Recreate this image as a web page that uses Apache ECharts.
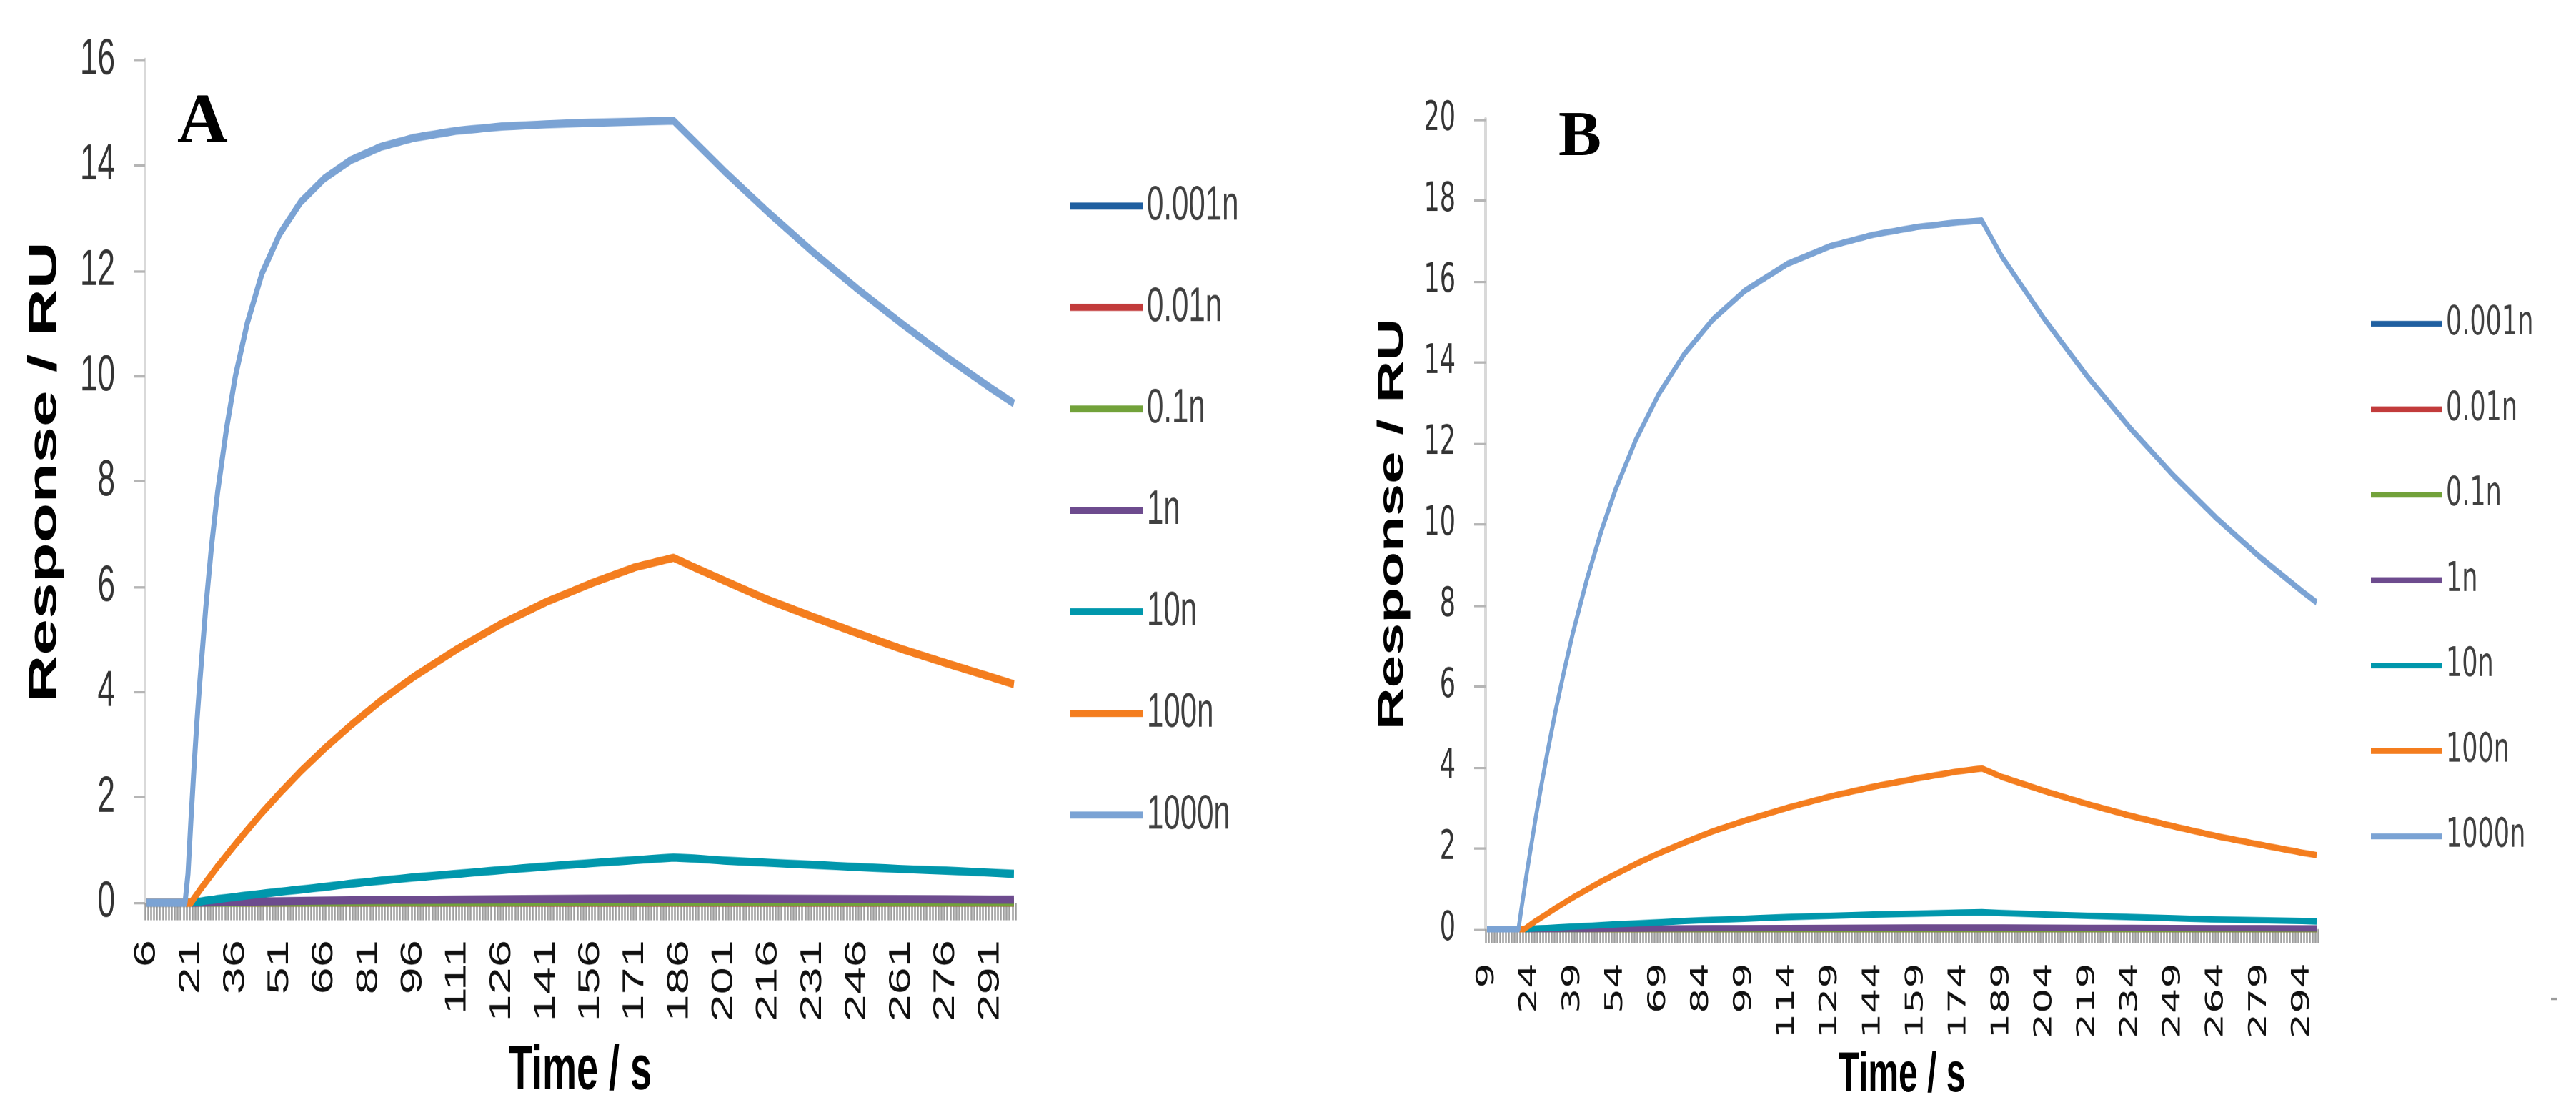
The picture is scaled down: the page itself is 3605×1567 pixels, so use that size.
<!DOCTYPE html>
<html><head><meta charset="utf-8">
<script src="https://cdn.jsdelivr.net/npm/echarts@6/dist/echarts.min.js"></script>
<style>
html,body{margin:0;padding:0;background:#fff;overflow:hidden;width:3605px;height:1567px;}
#wrap{width:3605px;height:1567px;overflow:hidden;position:relative;background:#fff;}
#chart{width:3605px;height:961px;position:absolute;left:0;top:0;transform:scaleY(1.630593);transform-origin:0 0;}
</style></head>
<body><div id="wrap"><div id="chart"></div></div>
<script>
// ---------- data ----------
const seriesNames = ['0.001n', '0.01n', '0.1n', '1n', '10n', '100n', '1000n'];
const seriesColors = ['#1f5fa0', '#c23b3b', '#72a23a', '#6d4b8e', '#0097ac', '#f47d1e', '#7ba3d4'];

// Panel A : time axis 6 .. 299 s
const timeStartA = 6, timeEndA = 299;
const sampleTimesA = [6, 19, 20, 21, 22, 23, 24, 26, 28, 30, 33, 36, 40, 45, 51, 58, 66, 75, 85, 96,
  111, 126, 141, 156, 171, 184, 191, 201, 216, 231, 246, 261, 276, 291, 299];
const a_0001n = [0, 0, 0, 0, 0, 0, 0, 0, 0, 0, 0, 0, 0, 0, 0, 0, 0, 0, 0, 0,
  0, 0, 0, 0, 0, 0, 0, 0, 0, 0, 0, 0, 0, 0, 0];
const a_001n = [0, 0, 0, 0, 0, 0, 0, 0, 0, 0, 0, 0, 0, 0, 0, 0, 0.001, 0.001, 0.001, 0.001,
  0.001, 0.001, 0.001, 0.001, 0.001, 0.001, 0.001, 0.001, 0.001, 0.001, 0.001, 0.001, 0.001, 0.001, 0.001];
const a_01n = [0, 0, 0, 0, 0, 0, 0, 0, 0.001, 0.001, 0.002, 0.002, 0.003, 0.003, 0.004, 0.004, 0.005, 0.006, 0.006, 0.007,
  0.008, 0.008, 0.009, 0.009, 0.01, 0.01, 0.01, 0.01, 0.009, 0.009, 0.009, 0.008, 0.008, 0.008, 0.008];
const a_1n = [0, 0, 0, 0, 0, 0, 0.005, 0.005, 0.01, 0.01, 0.015, 0.02, 0.02, 0.025, 0.03, 0.035, 0.04, 0.045, 0.05, 0.055,
  0.06, 0.065, 0.07, 0.075, 0.08, 0.08, 0.08, 0.078, 0.075, 0.072, 0.07, 0.068, 0.065, 0.06, 0.06];
const a_10n = [0, 0, 0, 0, 0.01, 0.015, 0.02, 0.04, 0.05, 0.07, 0.09, 0.11, 0.14, 0.17, 0.21, 0.25, 0.30, 0.36, 0.42, 0.48,
  0.55, 0.62, 0.69, 0.75, 0.81, 0.86, 0.84, 0.80, 0.76, 0.72, 0.68, 0.64, 0.61, 0.57, 0.55];
const a_100n = [0, 0, 0, 0, 0.08, 0.16, 0.24, 0.39, 0.54, 0.69, 0.90, 1.11, 1.38, 1.71, 2.08, 2.49, 2.92, 3.37, 3.83, 4.28,
  4.82, 5.30, 5.71, 6.06, 6.37, 6.55, 6.37, 6.12, 5.75, 5.43, 5.12, 4.82, 4.55, 4.29, 4.15];
const a_1000n = [0, 0, 0.55, 1.58, 2.54, 3.43, 4.20, 5.60, 6.80, 7.80, 9.00, 10.00, 11.00, 11.95, 12.70, 13.30, 13.75, 14.10, 14.35, 14.52,
  14.66, 14.74, 14.78, 14.81, 14.83, 14.85, 14.46, 13.90, 13.11, 12.36, 11.66, 11.00, 10.37, 9.78, 9.48];

// Panel B : time axis 9 .. 299 s
const timeStartB = 9, timeEndB = 299;
const sampleTimesB = [9, 19, 20, 21, 22, 23, 24, 26, 28, 30, 33, 36, 39, 44, 49, 54, 61, 69, 78, 88,
  99, 114, 129, 144, 159, 174, 182, 189, 204, 219, 234, 249, 264, 279, 294, 299];
const b_0001n = [0, 0, 0, 0, 0, 0, 0, 0, 0, 0, 0, 0, 0, 0, 0, 0, 0, 0, 0, 0,
  0, 0, 0, 0, 0, 0, 0, 0, 0, 0, 0, 0, 0, 0, 0, 0];
const b_001n = [0, 0, 0, 0, 0, 0, 0, 0, 0, 0, 0, 0, 0, 0, 0, 0, 0, 0, 0.001, 0.001,
  0.001, 0.001, 0.001, 0.001, 0.001, 0.001, 0.001, 0.001, 0.001, 0.001, 0.001, 0.001, 0.001, 0.001, 0.001, 0.001];
const b_01n = [0, 0, 0, 0, 0, 0, 0, 0, 0, 0.001, 0.001, 0.001, 0.001, 0.002, 0.002, 0.002, 0.003, 0.003, 0.003, 0.004,
  0.004, 0.004, 0.005, 0.005, 0.005, 0.005, 0.005, 0.005, 0.005, 0.004, 0.004, 0.004, 0.004, 0.003, 0.003, 0.003];
const b_1n = [0, 0, 0, 0, 0, 0, 0.001, 0.002, 0.003, 0.004, 0.005, 0.006, 0.007, 0.009, 0.011, 0.013, 0.015, 0.018, 0.021, 0.024,
  0.027, 0.030, 0.033, 0.036, 0.038, 0.040, 0.041, 0.040, 0.037, 0.034, 0.031, 0.028, 0.026, 0.024, 0.022, 0.021];
const b_10n = [0, 0, 0, 0, 0, 0.005, 0.01, 0.02, 0.025, 0.03, 0.04, 0.05, 0.06, 0.08, 0.10, 0.12, 0.14, 0.17, 0.20, 0.23,
  0.26, 0.30, 0.33, 0.36, 0.38, 0.41, 0.42, 0.40, 0.36, 0.33, 0.30, 0.27, 0.24, 0.22, 0.20, 0.19];
const b_100n = [0, 0, 0, 0, 0, 0.05, 0.10, 0.20, 0.29, 0.38, 0.52, 0.65, 0.78, 0.98, 1.18, 1.36, 1.61, 1.87, 2.14, 2.42,
  2.68, 3.00, 3.28, 3.52, 3.72, 3.90, 3.97, 3.76, 3.41, 3.09, 2.80, 2.54, 2.30, 2.09, 1.89, 1.83];
const b_1000n = [0, 0, 0, 0.49, 0.96, 1.43, 1.87, 2.74, 3.55, 4.32, 5.40, 6.39, 7.31, 8.66, 9.84, 10.87, 12.08, 13.21, 14.21, 15.06,
  15.76, 16.43, 16.87, 17.15, 17.34, 17.46, 17.50, 16.61, 15.05, 13.64, 12.36, 11.20, 10.15, 9.20, 8.34, 8.07];

const valuesA = [a_0001n, a_001n, a_01n, a_1n, a_10n, a_100n, a_1000n];
const valuesB = [b_0001n, b_001n, b_01n, b_1n, b_10n, b_100n, b_1000n];

const yTicksA = {min: 0, max: 16, step: 2};
const yTicksB = {min: 0, max: 20, step: 2};
const panelLetters = ['A', 'B'];
const xTitle = 'Time / s';
const yTitle = 'Response / RU';

// ---------- build ----------
const S = 1567 / 961; // vertical stretch applied by CSS
function cats(a, b) { const c = []; for (let t = a; t <= b; t++) c.push(String(t)); return c; }
const catsA = cats(timeStartA, timeEndA);
const catsB = cats(timeStartB, timeEndB);

function mkSeries(times, vals, idx, lw) {
  return seriesNames.map((n, k) => ({
    name: n, type: 'line', xAxisIndex: idx, yAxisIndex: idx,
    showSymbol: false, symbol: 'none', animation: false, silent: true,
    lineStyle: {color: seriesColors[k], width: lw, join: 'round'},
    itemStyle: {color: seriesColors[k]},
    z: 2 + k,
    data: times.map((t, i) => [String(t), vals[k][i]])
  }));
}

const FA = 'Liberation Sans, Arial, sans-serif';
const FB = 'DejaVu Sans, Verdana, sans-serif';

const chart = echarts.init(document.getElementById('chart'), null, {renderer: 'canvas', devicePixelRatio: 2});
chart.setOption({
  backgroundColor: '#ffffff',
  animation: false,
  grid: [
    {left: 203, right: 3605 - 1421, top: 84 / S, bottom: 961 - 1263 / S},
    {left: 2079, right: 3605 - 3244, top: 167 / S, bottom: 961 - 1300 / S}
  ],
  xAxis: [
    {gridIndex: 0, type: 'category', data: catsA, boundaryGap: true,
     axisLine: {show: false},
     axisTick: {show: true, interval: 0, length: 15, lineStyle: {color: '#9e9e9e', width: 2.5}},
     axisLabel: {interval: 14, rotate: 90, margin: 32, fontFamily: FA, fontSize: 42, color: '#111'},
     splitLine: {show: false},
     name: xTitle, nameLocation: 'middle', nameGap: 118,
     nameTextStyle: {fontFamily: FA, fontWeight: 'bold', fontSize: 54, color: '#000'}},
    {gridIndex: 1, type: 'category', data: catsB, boundaryGap: true,
     axisLine: {show: false},
     axisTick: {show: true, interval: 0, length: 12, lineStyle: {color: '#9e9e9e', width: 2.5}},
     axisLabel: {interval: 14, rotate: 90, margin: 29, fontFamily: FB, fontSize: 34, color: '#111'},
     splitLine: {show: false},
     name: xTitle, nameLocation: 'middle', nameGap: 80,
     nameTextStyle: {fontFamily: FA, fontWeight: 'bold', fontSize: 48, color: '#000'}}
  ],
  yAxis: [
    {gridIndex: 0, type: 'value', min: yTicksA.min, max: yTicksA.max, interval: yTicksA.step,
     axisLine: {show: true, lineStyle: {color: '#d9d9d9', width: 4}},
     axisTick: {show: true, length: 16, lineStyle: {color: '#b5b5b5', width: 2}},
     splitLine: {show: false},
     axisLabel: {fontFamily: FA, fontSize: 44, color: '#333', margin: 42},
     name: yTitle, nameLocation: 'middle', nameRotate: 90, nameGap: 112,
     nameTextStyle: {fontFamily: FA, fontWeight: 'bold', fontSize: 56, color: '#000', padding: [0, 0, 0, 16]}},
    {gridIndex: 1, type: 'value', min: yTicksB.min, max: yTicksB.max, interval: yTicksB.step,
     axisLine: {show: true, lineStyle: {color: '#d9d9d9', width: 4}},
     axisTick: {show: true, length: 16, lineStyle: {color: '#b5b5b5', width: 2}},
     splitLine: {show: false},
     axisLabel: {fontFamily: FB, fontSize: 35, color: '#333', margin: 42},
     name: yTitle, nameLocation: 'middle', nameRotate: 90, nameGap: 105,
     nameTextStyle: {fontFamily: FA, fontWeight: 'bold', fontSize: 50, color: '#000'}}
  ],
  legend: [
    {orient: 'vertical', left: 1492, top: 280 / S - 25, icon: 'rect', itemWidth: 103, itemHeight: 6,
     itemGap: 142 / S - 50, selectedMode: false, data: seriesNames,
     textStyle: {fontFamily: FA, fontSize: 42, color: '#404040', lineHeight: 50}},
    {orient: 'vertical', left: 3313, top: 445 / S - 22, icon: 'rect', itemWidth: 100, itemHeight: 5,
     itemGap: 119.5 / S - 44, selectedMode: false, data: seriesNames,
     textStyle: {fontFamily: FB, fontSize: 35, color: '#404040', lineHeight: 44}}
  ],
  graphic: [
    {type: 'text', x: 248, y: 124 / S, scaleY: 1 / S,
     style: {text: panelLetters[0], font: 'bold 98px "Liberation Serif", "Times New Roman", serif', fill: '#000', verticalAlign: 'top'}},
    {type: 'text', x: 2181, y: 149 / S, scaleY: 1 / S,
     style: {text: panelLetters[1], font: 'bold 90px "Liberation Serif", "Times New Roman", serif', fill: '#000', verticalAlign: 'top'}},
    {type: 'rect', x: 3570, y: 1396 / S, shape: {width: 8, height: 2}, style: {fill: '#9a9a9a'}}
  ],
  series: [].concat(mkSeries(sampleTimesA, valuesA, 0, 7), mkSeries(sampleTimesB, valuesB, 1, 5.5))
});
</script>
</body></html>
